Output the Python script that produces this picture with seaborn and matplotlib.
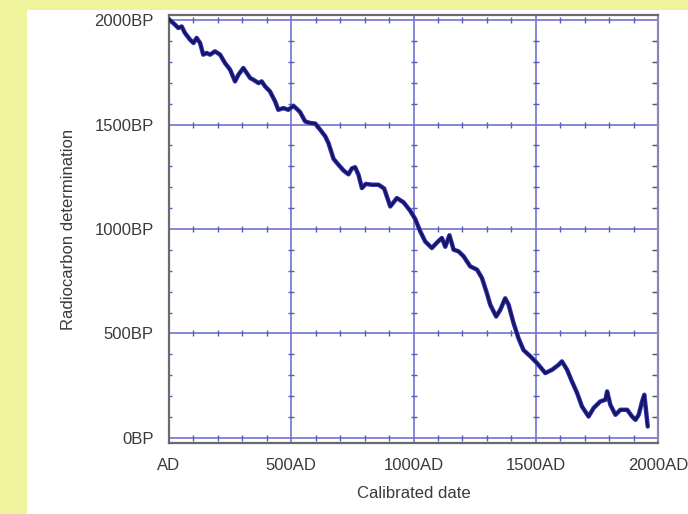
import matplotlib
matplotlib.use("Agg")
import matplotlib.pyplot as plt
from matplotlib.patches import Rectangle
from matplotlib.ticker import MultipleLocator, FixedLocator
import seaborn as sns
import pandas as pd

# Calibrated date (years AD)
years = [0, 4, 25, 38, 52, 65, 86, 100, 113, 127, 140, 154, 168, 188, 209, 229, 250,
         270, 284, 304, 318, 332, 345, 366, 379, 393, 413, 434, 447, 468, 488, 509,
         523, 536, 557, 577, 598, 618, 639, 652, 673, 693, 714, 734, 748, 761, 775,
         789, 805, 829, 857, 880, 905, 932, 959, 986, 1007, 1027, 1048, 1075, 1096,
         1116, 1130, 1147, 1164, 1184, 1205, 1232, 1260, 1280, 1300, 1314, 1338,
         1355, 1375, 1389, 1409, 1430, 1450, 1478, 1505, 1539, 1567, 1594, 1607,
         1628, 1648, 1669, 1689, 1716, 1737, 1764, 1785, 1792, 1805, 1826, 1846,
         1874, 1894, 1908, 1921, 1935, 1944, 1950, 1955, 1958]
# Radiocarbon determination (years BP)
bp = [2005, 2000, 1978, 1963, 1970, 1939, 1907, 1891, 1915, 1891, 1835, 1843, 1835,
      1851, 1835, 1795, 1763, 1707, 1739, 1771, 1747, 1723, 1715, 1699, 1707, 1683,
      1659, 1611, 1571, 1579, 1571, 1590, 1575, 1560, 1515, 1508, 1505, 1476, 1444,
      1412, 1336, 1308, 1280, 1262, 1290, 1296, 1260, 1196, 1216, 1212, 1212, 1194,
      1108, 1148, 1128, 1088, 1048, 990, 940, 909, 935, 957, 915, 970, 901, 893,
      869, 821, 805, 765, 693, 637, 581, 613, 668, 637, 550, 475, 420, 390, 358,
      310, 326, 350, 366, 326, 270, 215, 150, 102, 143, 174, 182, 222, 158, 110,
      134, 134, 102, 86, 110, 174, 206, 142, 86, 54]

x_ticks = [0, 500, 1000, 1500, 2000]
x_labels = ["AD", "500AD", "1000AD", "1500AD", "2000AD"]
y_ticks = [0, 500, 1000, 1500, 2000]
y_labels = ["0BP", "500BP", "1000BP", "1500BP", "2000BP"]
minor_step = 100

sns.set_style("white")
plt.rcParams["font.family"] = ["Liberation Sans", "DejaVu Sans"]

fig = plt.figure(figsize=(6.88, 5.14), dpi=100, facecolor="#eef39c")
fig.add_artist(Rectangle((27 / 688, 0), 1 - 27 / 688, 1 - 10 / 514,
                         transform=fig.transFigure, facecolor="white",
                         edgecolor="none", zorder=-1))

ax = fig.add_axes([169 / 688, 1 - 443 / 514, (658 - 169) / 688, (443 - 15) / 514])
ax.set_facecolor("white")

# small tick marks along the major grid lines
minor_x = [v for v in range(0, 2001, minor_step) if v not in x_ticks]
minor_y = [v for v in range(0, 2001, minor_step) if v not in y_ticks]
for yv in y_ticks:
    ax.plot(minor_x, [yv] * len(minor_x), linestyle="none", marker="|",
            markersize=4, markeredgewidth=1, color="#5a5ab8", zorder=1.5)
for xv in x_ticks:
    ax.plot([xv] * len(minor_y), minor_y, linestyle="none", marker="_",
            markersize=4, markeredgewidth=1, color="#5a5ab8", zorder=1.5)

df = pd.DataFrame({"year": years, "bp": bp})
sns.lineplot(data=df, x="year", y="bp", ax=ax, color="#3030b8", linewidth=3.2,
             sort=False, estimator=None, zorder=3)
sns.lineplot(data=df, x="year", y="bp", ax=ax, color="#16165e", linewidth=1.8,
             sort=False, estimator=None, zorder=3)

ax.set_xlim(0, 2000)
ax.set_ylim(-25, 2025)
ax.xaxis.set_major_locator(FixedLocator(x_ticks))
ax.yaxis.set_major_locator(FixedLocator(y_ticks))
ax.set_xticklabels(x_labels)
ax.set_yticklabels(y_labels)
ax.xaxis.set_minor_locator(MultipleLocator(minor_step))
ax.yaxis.set_minor_locator(MultipleLocator(minor_step))

ax.grid(True, which="major", color="#7272d2", linewidth=1.2)
ax.set_axisbelow(True)

ax.tick_params(which="both", direction="in", top=False, right=True,
               color="#555555", labelsize=12, labelcolor="#3a3a3a")
ax.tick_params(which="major", length=0, pad=11)
ax.tick_params(which="minor", length=4, width=1)

for side, sp in ax.spines.items():
    sp.set_visible(True)
    sp.set_color("#6a6a6a")
    sp.set_linewidth(1.6)
ax.spines["right"].set_color("#8a8ab0")

ax.set_xlabel("Calibrated date", fontsize=12, color="#3a3a3a")
ax.set_ylabel("Radiocarbon determination", fontsize=12, color="#3a3a3a")
ax.xaxis.set_label_coords(0.5, -0.10)
ax.yaxis.set_label_coords(-0.19, 0.5)

fig.savefig("out.png", dpi=100, facecolor=fig.get_facecolor())
